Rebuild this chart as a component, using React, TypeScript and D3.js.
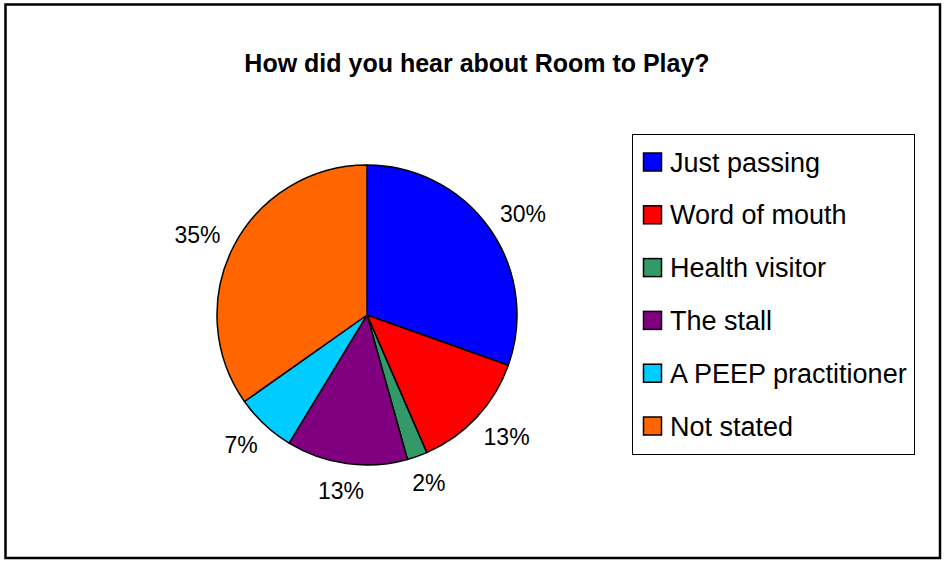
import React from "react";
import * as d3 from "d3";

const categories = ["Just passing", "Word of mouth", "Health visitor", "The stall", "A PEEP practitioner", "Not stated"];
const counts = [14, 6, 1, 6, 3, 16];
const colors = ["#0000FF", "#FF0000", "#339966", "#800080", "#00CCFF", "#FF6600"];
const title = "How did you hear about Room to Play?";

const W = 945;
const H = 561;
const cx = 367;
const cy = 315;
const R = 150;
const labelR = 168;
const labelFont = 23;

export default function App() {
  const total = d3.sum(counts);
  const pie = d3.pie<number>().sort(null).value((d) => d);
  const arcs = pie(counts);
  const arcGen = d3.arc<d3.PieArcDatum<number>>().innerRadius(0).outerRadius(R);
  const fmt = (v: number) => `${Math.round((v / total) * 100)}%`;

  const legendY = d3.scaleLinear().domain([0, categories.length - 1]).range([162, 426]);

  return (
    <svg width={W} height={H} style={{ position: "absolute", left: 0, top: 0 }}>
      <rect x={0} y={0} width={W} height={H} fill="#fff" />
      <rect x={5.5} y={4.5} width={934.5} height={553.5} fill="#fff" stroke="#000" strokeWidth={2.5} />
      <text x={477} y={72} textAnchor="middle" fontFamily="Liberation Sans, Arial, sans-serif" fontWeight="bold" fontSize={25} fill="#000">
        {title}
      </text>
      <g transform={`translate(${cx},${cy})`}>
        {arcs.map((a, i) => (
          <path key={i} d={arcGen(a) || ""} fill={colors[i]} stroke="#000" strokeWidth={1.5} strokeLinejoin="round" />
        ))}
        {arcs.map((a, i) => {
          const theta = (a.startAngle + a.endAngle) / 2;
          const s = Math.sin(theta);
          const c = Math.cos(theta);
          const txt = fmt(a.value);
          const w = txt.length === 3 ? 46 : 33;
          const h = 18;
          const x = labelR * s + (w / 2) * s;
          const y = -labelR * c - (h / 2) * c;
          return (
            <text key={"l" + i} x={x} y={y + h / 2} textAnchor="middle" fontFamily="Liberation Sans, Arial, sans-serif" fontSize={labelFont} fill="#000">
              {txt}
            </text>
          );
        })}
      </g>
      <rect x={632.5} y={134.5} width={282} height={320} fill="#fff" stroke="#000" strokeWidth={1} />
      {categories.map((cat, i) => (
        <g key={cat} transform={`translate(0,${legendY(i)})`}>
          <rect x={643.5} y={-9} width={18} height={18} fill={colors[i]} stroke="#000" strokeWidth={1.5} />
          <text x={670} y={9.5} fontFamily="Liberation Sans, Arial, sans-serif" fontSize={27} fill="#000">
            {cat}
          </text>
        </g>
      ))}
    </svg>
  );
}
